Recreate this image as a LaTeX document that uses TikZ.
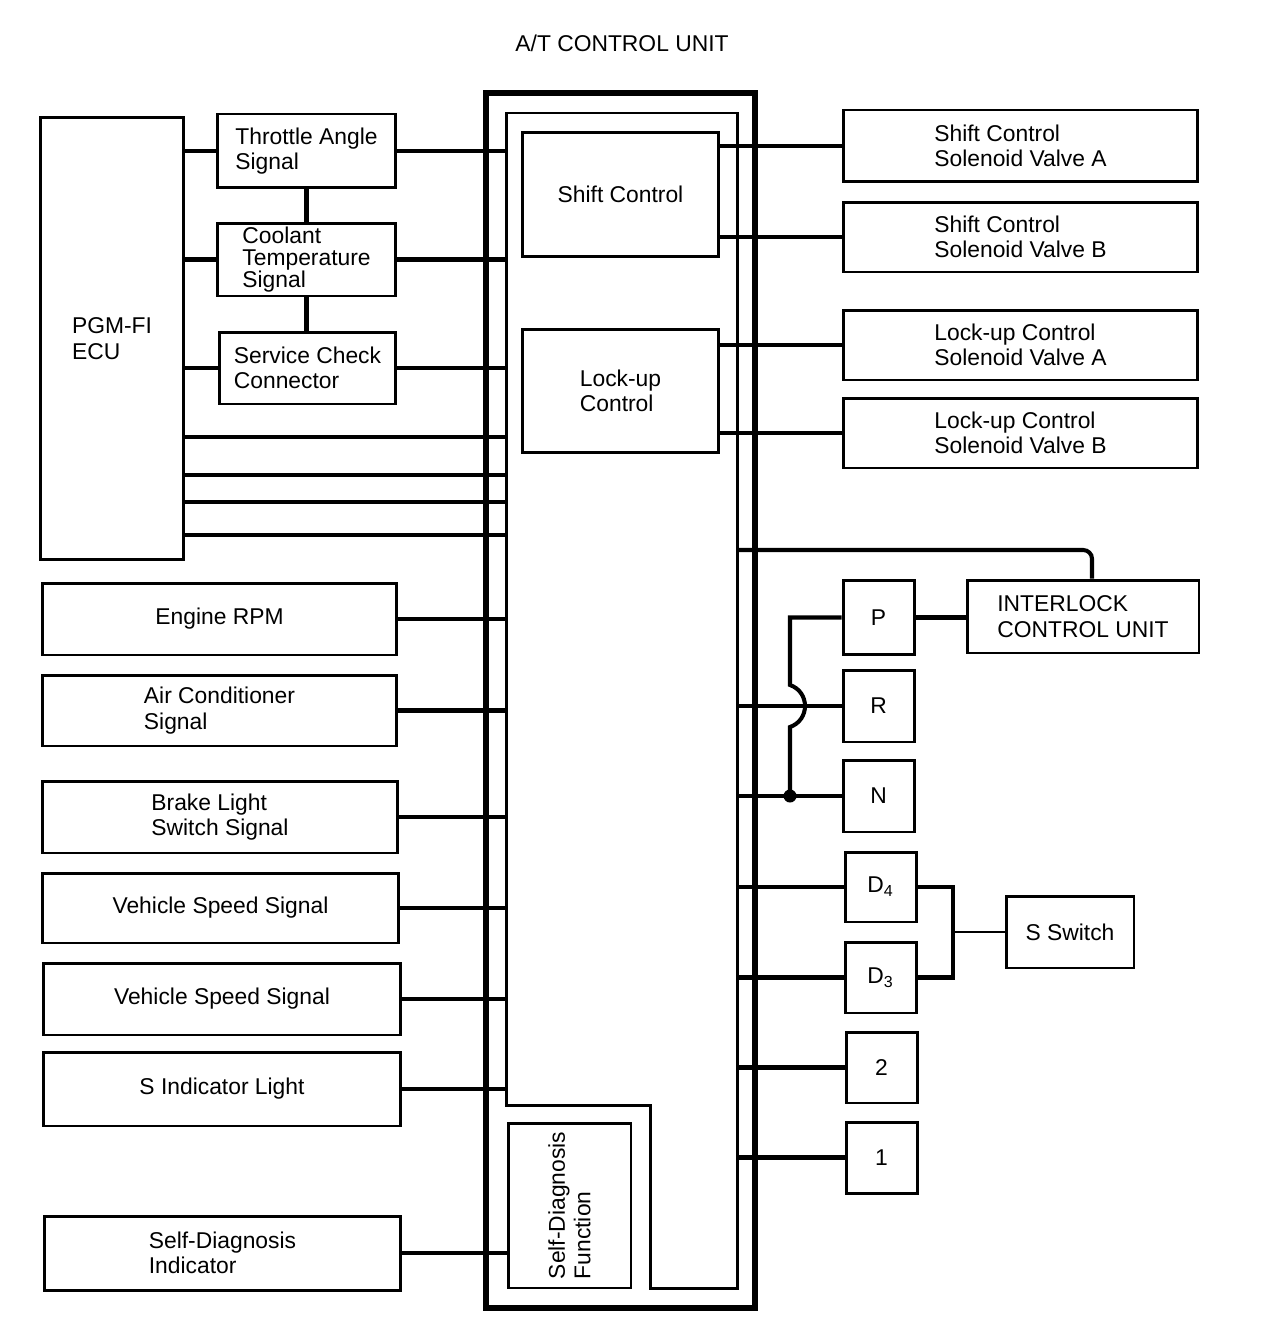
\documentclass[tikz,border=0pt]{standalone}
\usepackage{fontspec}
\setmainfont{Liberation Sans}
\begin{document}
\begin{tikzpicture}[x=0.02cm,y=-0.02cm,
  font=\fontsize{13}{14.5}\selectfont,
  box/.style={draw,line width=1.7pt,align=left,inner sep=0pt},
  wire/.style={line width=2.3pt},
  thinwire/.style={line width=1.4pt}]
\useasboundingbox (0,0) rectangle (1264,1338);
\node (title) at (622,43) {A/T CONTROL UNIT};
% control unit
\node[draw,line width=3.4pt,minimum width=5.38cm,minimum height=24.3cm] (atu) at (620.5,700.5) {};
\coordinate (inL) at (506,113);
\coordinate (inR) at (737,113);
\draw[line width=1.7pt] (inL) -- (inR) -- (737,1288) -- (650,1288) -- (650,1105) -- (506,1105) -- cycle;
\node[box,minimum width=3.94cm,minimum height=2.5cm] (shift) at (620.5,194.5) {Shift Control};
\node[box,minimum width=3.94cm,minimum height=2.48cm] (lockup) at (620.5,391) {Lock-up\\Control};
\node[box,rotate=90,minimum width=3.3cm,minimum height=2.46cm] (sdf) at (569.5,1205.5) {Self-Diagnosis\\Function};
% left side
\node[box,minimum width=2.88cm,minimum height=8.86cm] (ecu) at (112,338.5) {PGM-FI\\ECU};
\node[box,minimum width=3.58cm,minimum height=1.48cm] (tas) at (306.5,151) {Throttle Angle\\Signal};
\node[box,minimum width=3.58cm,minimum height=1.46cm,font=\fontsize{13}{12.5}\selectfont] (cts) at (306.5,259.5) {Coolant\\Temperature\\Signal};
\node[box,minimum width=3.54cm,minimum height=1.44cm] (scc) at (307.5,368) {Service Check\\Connector};
\node[box,minimum width=7.1cm,minimum height=1.44cm] (rpm) at (219.5,619) {Engine RPM};
\node[box,minimum width=7.1cm,minimum height=1.42cm] (acs) at (219.5,710.5) {Air Conditioner\\Signal};
\node[box,minimum width=7.12cm,minimum height=1.44cm] (bls) at (220,817) {Brake Light\\Switch Signal};
\node[box,minimum width=7.14cm,minimum height=1.4cm] (vsa) at (220.5,908) {Vehicle Speed Signal};
\node[box,minimum width=7.16cm,minimum height=1.44cm] (vsb) at (222,999) {Vehicle Speed Signal};
\node[box,minimum width=7.16cm,minimum height=1.48cm] (sil) at (222,1089) {S Indicator Light};
\node[box,minimum width=7.14cm,minimum height=1.48cm] (sdi) at (222.5,1253) {Self-Diagnosis\\Indicator};
\draw[wire] (ecu.east |- tas.west) -- (tas.west);
\draw[wire] (ecu.east |- cts.west) -- (cts.west);
\draw[wire] (ecu.east |- scc.west) -- (scc.west);
\draw[wire] (tas.south) -- (tas.south |- cts.north);
\draw[wire] (cts.south) -- (cts.south |- scc.north);
\draw[wire] (tas.east) -- (tas.east -| inL);
\draw[wire] (cts.east) -- (cts.east -| inL);
\draw[wire] (scc.east) -- (scc.east -| inL);
\draw[wire] (ecu.east |- 0,437) -- (inL |- 0,437);
\draw[wire] (ecu.east |- 0,475) -- (inL |- 0,475);
\draw[wire] (ecu.east |- 0,502) -- (inL |- 0,502);
\draw[wire] (ecu.east |- 0,535) -- (inL |- 0,535);
\draw[wire] (rpm.east) -- (rpm.east -| inL);
\draw[wire] (acs.east) -- (acs.east -| inL);
\draw[wire] (bls.east) -- (bls.east -| inL);
\draw[wire] (vsa.east) -- (vsa.east -| inL);
\draw[wire] (vsb.east) -- (vsb.east -| inL);
\draw[wire] (sil.east) -- (sil.east -| inL);
\draw[wire] (sdi.east) -- (sdi.east -| sdf.north);
% right side
\node[box,minimum width=7.1cm,minimum height=1.44cm] (scA) at (1020.5,146) {Shift Control\\Solenoid Valve A};
\node[box,minimum width=7.1cm,minimum height=1.4cm] (scB) at (1020.5,237) {Shift Control\\Solenoid Valve B};
\node[box,minimum width=7.1cm,minimum height=1.4cm] (luA) at (1020.5,345) {Lock-up Control\\Solenoid Valve A};
\node[box,minimum width=7.1cm,minimum height=1.4cm] (luB) at (1020.5,433) {Lock-up Control\\Solenoid Valve B};
\node[box,minimum width=4.64cm,minimum height=1.46cm] (ilu) at (1083,616.5) {INTERLOCK\\CONTROL UNIT};
\node[box,minimum width=1.42cm,minimum height=1.48cm] (P) at (878.5,617.5) {P};
\node[box,minimum width=1.42cm,minimum height=1.44cm] (R) at (878.5,706) {R};
\node[box,minimum width=1.42cm,minimum height=1.44cm] (N) at (878.5,796) {N};
\node[box,minimum width=1.42cm,minimum height=1.4cm] (D4) at (880.5,887) {D\textsubscript{4}};
\node[box,minimum width=1.42cm,minimum height=1.42cm] (D3) at (880.5,977.5) {D\textsubscript{3}};
\node[box,minimum width=1.42cm,minimum height=1.42cm] (two) at (881.5,1067.5) {2};
\node[box,minimum width=1.42cm,minimum height=1.42cm] (one) at (881.5,1157.5) {1};
\node[box,minimum width=2.56cm,minimum height=1.44cm] (ssw) at (1070,932) {S Switch};
\draw[wire] (shift.east |- scA.west) -- (scA.west);
\draw[wire] (shift.east |- scB.west) -- (scB.west);
\draw[wire] (lockup.east |- luA.west) -- (luA.west);
\draw[wire] (lockup.east |- luB.west) -- (luB.west);
\coordinate (ilk) at (1092,550);
\draw[wire,rounded corners=5pt] (inR |- ilk) -- (ilk) -- (ilk |- ilu.north);
\draw[wire] (P.east) -- (P.east -| ilu.west);
\draw[wire] (inR |- R.west) -- (R.west);
\draw[wire] (inR |- N.west) -- (N.west);
\coordinate (jn) at (790,796);
\draw[wire] (jn) -- (790,727) .. controls (810,720) and (810,692) .. (790,685) -- (jn |- P.west) -- (P.west);
\fill (jn) circle[radius=0.13cm];
\draw[wire] (inR |- D4.west) -- (D4.west);
\draw[wire] (inR |- D3.west) -- (D3.west);
\draw[wire] (inR |- two.west) -- (two.west);
\draw[wire] (inR |- one.west) -- (one.west);
\coordinate (sj) at (953,932);
\draw[wire] (D4.east) -| (sj) |- (D3.east);
\draw[thinwire] (sj) -- (ssw.west);
\end{tikzpicture}
\end{document}
